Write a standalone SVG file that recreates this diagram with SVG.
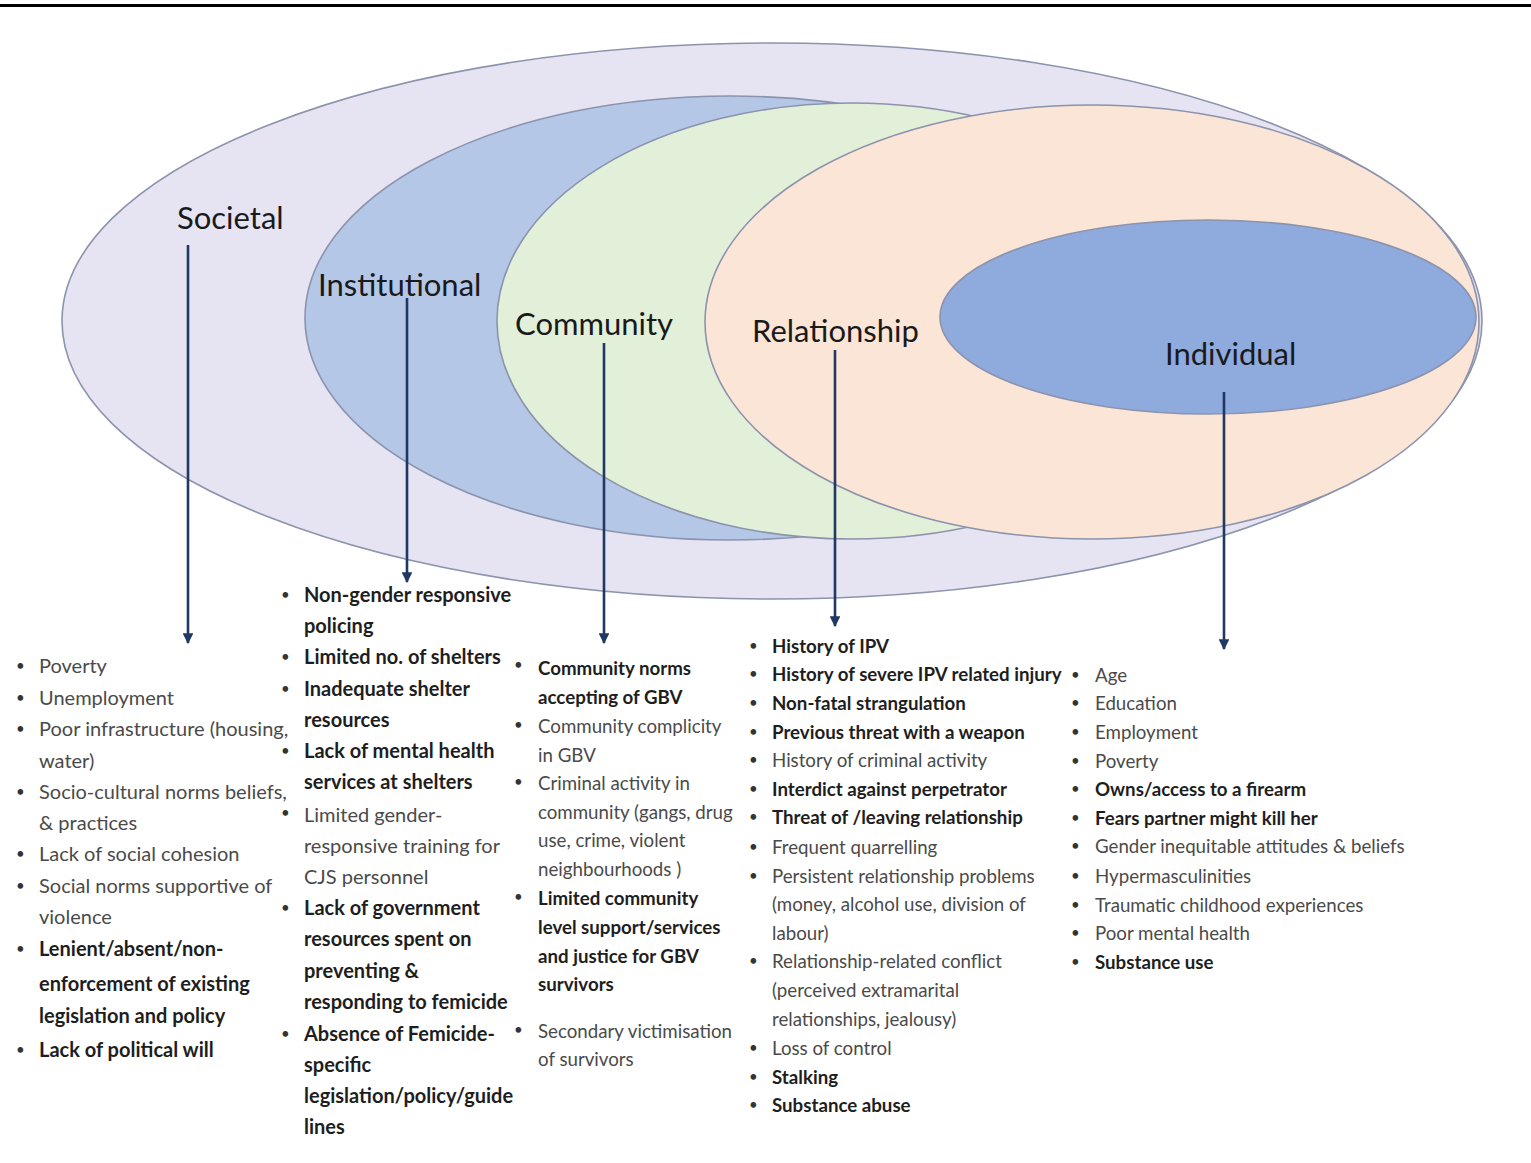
<svg xmlns="http://www.w3.org/2000/svg" width="1531" height="1163" viewBox="0 0 1531 1163">
<defs>
<marker id="ah" viewBox="0 0 10 10" refX="9" refY="5" markerWidth="4.2" markerHeight="4.2" orient="auto" markerUnits="strokeWidth">
<path d="M0,0 L10,5 L0,10 z" fill="#1f3864"/>
</marker>
<style>
.ell{stroke:#8c93ad;stroke-width:1.6}
.lbl{font-family:Lato,"Liberation Sans",sans-serif;font-size:31px;fill:#1a1a1a}
.con{stroke:#1f3864;stroke-width:2.6;fill:none}
.L{font-family:Lato,"Liberation Sans",sans-serif;font-size:20px}
.S{font-family:Lato,"Liberation Sans",sans-serif;font-size:18.7px}
.r{fill:#4a4a4a}
.b{fill:#1e1e1e;font-weight:bold}
.d{fill:#333;font-size:15px;font-weight:normal}
</style>
</defs>
<rect width="1531" height="1163" fill="#ffffff"/>
<rect x="0" y="4" width="1531" height="3" fill="#000"/>

<g id="societal-ellipse"><ellipse class="ell" cx="772" cy="321" rx="710" ry="278" fill="#e6e3f2"/></g>
<g id="institutional-ellipse"><ellipse class="ell" cx="730" cy="318" rx="425" ry="222" fill="#b4c7e7"/></g>
<g id="community-ellipse"><ellipse class="ell" cx="852" cy="321" rx="355" ry="218" fill="#e2f0d9"/></g>
<g id="relationship-ellipse"><ellipse class="ell" cx="1092" cy="322" rx="387" ry="217" fill="#fbe5d6"/></g>
<g id="individual-ellipse"><ellipse class="ell" cx="1208" cy="317" rx="268" ry="97" fill="#8faadc"/></g>

<g id="labels">
<text class="lbl" x="177" y="229">Societal</text>
<text class="lbl" x="318" y="296">Institutional</text>
<text class="lbl" x="515" y="335">Community</text>
<text class="lbl" x="752" y="342">Relationship</text>
<text class="lbl" x="1165" y="365">Individual</text>
</g>

<g id="connectors">
<line class="con" x1="188" y1="245" x2="188" y2="643" marker-end="url(#ah)"/>
<line class="con" x1="407" y1="298" x2="407" y2="582" marker-end="url(#ah)"/>
<line class="con" x1="604" y1="343" x2="604" y2="643" marker-end="url(#ah)"/>
<line class="con" x1="835" y1="350" x2="835" y2="626" marker-end="url(#ah)"/>
<line class="con" x1="1224" y1="392" x2="1224" y2="649" marker-end="url(#ah)"/>
</g>

<g id="societal-list" class="L">
<text class="d" x="16" y="671">•</text><text class="r" x="39" y="673">Poverty</text>
<text class="d" x="16" y="703">•</text><text class="r" x="39" y="705">Unemployment</text>
<text class="d" x="16" y="734">•</text><text class="r" x="39" y="736">Poor infrastructure (housing,</text>
<text class="r" x="39" y="768">water)</text>
<text class="d" x="16" y="797">•</text><text class="r" x="39" y="799">Socio-cultural norms beliefs,</text>
<text class="r" x="39" y="830">&amp; practices</text>
<text class="d" x="16" y="859">•</text><text class="r" x="39" y="861">Lack of social cohesion</text>
<text class="d" x="16" y="891">•</text><text class="r" x="39" y="893">Social norms supportive of</text>
<text class="r" x="39" y="924">violence</text>
<text class="d" x="16" y="954">•</text><text class="b" x="39" y="956">Lenient/absent/non-</text>
<text class="b" x="39" y="991">enforcement of existing</text>
<text class="b" x="39" y="1023">legislation and policy</text>
<text class="d" x="16" y="1055">•</text><text class="b" x="39" y="1057">Lack of political will</text>
</g>

<g id="institutional-list" class="L">
<text class="d" x="281" y="600">•</text><text class="b" x="304" y="602">Non-gender responsive</text>
<text class="b" x="304" y="633">policing</text>
<text class="d" x="281" y="662">•</text><text class="b" x="304" y="664">Limited no. of shelters</text>
<text class="d" x="281" y="694">•</text><text class="b" x="304" y="696">Inadequate shelter</text>
<text class="b" x="304" y="727">resources</text>
<text class="d" x="281" y="756">•</text><text class="b" x="304" y="758">Lack of mental health</text>
<text class="b" x="304" y="789">services at shelters</text>
<text class="d" x="281" y="818">•</text><text class="r" x="304" y="822">Limited gender-</text>
<text class="r" x="304" y="853">responsive training for</text>
<text class="r" x="304" y="884">CJS personnel</text>
<text class="d" x="281" y="913">•</text><text class="b" x="304" y="915">Lack of government</text>
<text class="b" x="304" y="946">resources spent on</text>
<text class="b" x="304" y="978">preventing  &amp;</text>
<text class="b" x="304" y="1009">responding to femicide</text>
<text class="d" x="281" y="1039">•</text><text class="b" x="304" y="1041">Absence of Femicide-</text>
<text class="b" x="304" y="1072">specific</text>
<text class="b" x="304" y="1103">legislation/policy/guide</text>
<text class="b" x="304" y="1134">lines</text>
</g>

<g id="community-list" class="S">
<text class="d" x="514" y="670">•</text><text class="b" x="538" y="675">Community norms</text>
<text class="b" x="538" y="704">accepting of GBV</text>
<text class="d" x="514" y="730">•</text><text class="r" x="538" y="733">Community complicity</text>
<text class="r" x="538" y="762">in GBV</text>
<text class="d" x="514" y="787">•</text><text class="r" x="538" y="790">Criminal activity in</text>
<text class="r" x="538" y="819">community (gangs, drug</text>
<text class="r" x="538" y="847">use, crime, violent</text>
<text class="r" x="538" y="876">neighbourhoods )</text>
<text class="d" x="514" y="902">•</text><text class="b" x="538" y="905">Limited community</text>
<text class="b" x="538" y="934">level support/services</text>
<text class="b" x="538" y="963">and justice for GBV</text>
<text class="b" x="538" y="991">survivors</text>
<text class="d" x="514" y="1035">•</text><text class="r" x="538" y="1038">Secondary victimisation</text>
<text class="r" x="538" y="1066">of survivors</text>
</g>

<g id="relationship-list" class="S">
<text class="d" x="749" y="651">•</text><text class="b" x="772" y="653">History of IPV</text>
<text class="d" x="749" y="679">•</text><text class="b" x="772" y="681">History of severe IPV related injury</text>
<text class="d" x="749" y="708">•</text><text class="b" x="772" y="710">Non-fatal strangulation</text>
<text class="d" x="749" y="737">•</text><text class="b" x="772" y="739">Previous threat with a weapon</text>
<text class="d" x="749" y="765">•</text><text class="r" x="772" y="767">History of criminal activity</text>
<text class="d" x="749" y="794">•</text><text class="b" x="772" y="796">Interdict against  perpetrator</text>
<text class="d" x="749" y="822">•</text><text class="b" x="772" y="824">Threat of /leaving relationship</text>
<text class="d" x="749" y="852">•</text><text class="r" x="772" y="854">Frequent quarrelling</text>
<text class="d" x="749" y="881">•</text><text class="r" x="772" y="883">Persistent relationship problems</text>
<text class="r" x="772" y="911">(money, alcohol use, division of</text>
<text class="r" x="772" y="940">labour)</text>
<text class="d" x="749" y="966">•</text><text class="r" x="772" y="968">Relationship-related conflict</text>
<text class="r" x="772" y="997">(perceived extramarital</text>
<text class="r" x="772" y="1026">relationships, jealousy)</text>
<text class="d" x="749" y="1053">•</text><text class="r" x="772" y="1055">Loss of control</text>
<text class="d" x="749" y="1082">•</text><text class="b" x="772" y="1084">Stalking</text>
<text class="d" x="749" y="1110">•</text><text class="b" x="772" y="1112">Substance abuse</text>
</g>

<g id="individual-list" class="S">
<text class="d" x="1071" y="680">•</text><text class="r" x="1095" y="682">Age</text>
<text class="d" x="1071" y="708">•</text><text class="r" x="1095" y="710">Education</text>
<text class="d" x="1071" y="737">•</text><text class="r" x="1095" y="739">Employment</text>
<text class="d" x="1071" y="766">•</text><text class="r" x="1095" y="768">Poverty</text>
<text class="d" x="1071" y="794">•</text><text class="b" x="1095" y="796">Owns/access to a firearm</text>
<text class="d" x="1071" y="823">•</text><text class="b" x="1095" y="825">Fears partner might kill her</text>
<text class="d" x="1071" y="851">•</text><text class="r" x="1095" y="853">Gender inequitable attitudes &amp; beliefs</text>
<text class="d" x="1071" y="881">•</text><text class="r" x="1095" y="883">Hypermasculinities</text>
<text class="d" x="1071" y="910">•</text><text class="r" x="1095" y="912">Traumatic childhood experiences</text>
<text class="d" x="1071" y="938">•</text><text class="r" x="1095" y="940">Poor mental health</text>
<text class="d" x="1071" y="967">•</text><text class="b" x="1095" y="969">Substance  use</text>
</g>
</svg>
